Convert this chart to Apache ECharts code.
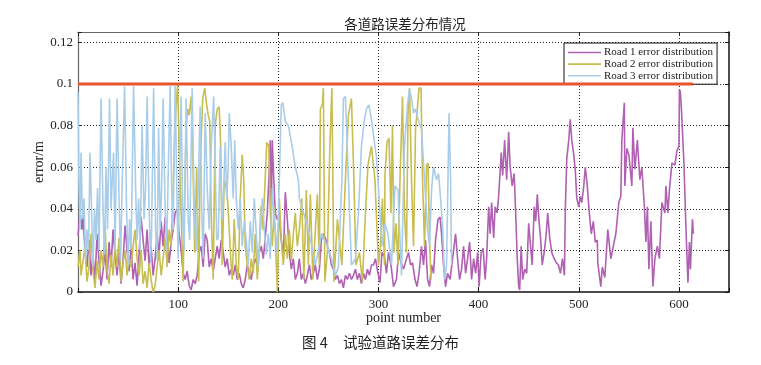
<!DOCTYPE html>
<html><head><meta charset="utf-8">
<script src="https://cdn.jsdelivr.net/npm/echarts@6/dist/echarts.min.js"></script>
<style>html,body{margin:0;padding:0;background:#fff}#c{width:761px;height:365px}</style>
</head><body><div id="c"></div>
<script>
const titleText = "各道路误差分布情况";
const captionLabel = "图 4";
const captionText = "试验道路误差分布";
const xName = "point number";
const yName = "error/m";
const seriesNames = ["Road 1 error distribution", "Road 2 error distribution", "Road 3 error distribution"];
const thresholdValue = 0.1;
const thresholdX = [0, 614];

const road1X = [0,2,4,5,7,9,11,13,15,17,19,21,23,25,27,29,31,33,35,37,39,41,43,45,47,49,51,53,55,57,59,61,63,65,67,69,71,73,75,77,79,81,83,85,87,89,91,93,95,97,99,101,103,105,107,109,111,113,115,117,119,121,123,125,127,129,131,133,135,137,139,141,143,145,147,149,151,153,155,157,159,161,163,165,167,169,171,173,175,177,179,181,183,185,187,189,190.5,192,193,194,195.5,197,199,201,203,205,207,209,211,213,215,217,219,221,223,225,227,229,231,233,235,237,239,241,243,245,247,249,251,253,255,257,259,261,263,265,267,269,271,273,275,277,279,281,283,285,287,289,291,293,295,297,299.5,301.5,303.5,306,308,310,312.5,315,318,320,322.5,325,328,330,332,334,336.5,338.5,340.5,343,345,347,349,351,353,355,357,359.5,361.5,363,365,367,369,371.5,374,377,379,381,383,385,387,389,391,393,395,397,399,400.5,402.5,404.5,406.5,408,410,411.5,413,415,416.5,418.5,420,422.6,424,426,428,430,431.5,433.5,435.5,437,438.6,440,441,442.5,444,446,448,450,451.5,453.5,455.5,457,458.6,460,462,463.5,465.5,467.5,469,471,473,475.5,477.7,479.7,481.7,483.7,485.7,486.5,488,490,491.5,493,495,496.6,498,500,501.5,503,505,506.5,508.5,510.5,512.5,514.5,516.5,518.5,519,522,523.5,526,529,532,537,540,542,543,545.5,546,548,550,553,554,556,558.5,561,563,565.5,567,568.5,570,572,574,576,578.5,580.5,583,586,587,589,590.5,593,596,598,600,600.5,601.5,602.7,605,607,609,610.5,611.5,613.5,614.5];
const road1Y = [0.027,0.038,0.03,0.037,0.02,0.012,0.025,0.008,0.018,0.005,0.028,0.015,0.003,0.01,0.02,0.006,0.024,0.012,0.03,0.018,0.008,0.02,0.004,0.015,0.032,0.02,0.01,0.022,0.006,0.014,0.003,0.018,0.036,0.025,0.015,0.03,0.012,0.022,0.008,0.016,0.028,0.018,0.034,0.022,0.036,0.028,0.014,0.024,0.03,0.038,0.04,0.028,0.02,0.009,0.006,0.01,0.003,0.001,0.006,0.004,0.008,0.019,0.022,0.012,0.028,0.025,0.012,0.016,0.01,0.016,0.022,0.016,0.025,0.019,0.012,0.016,0.008,0.011,0.008,0.013,0.006,0.009,0.004,0.002,0.006,0.013,0.009,0.006,0.013,0.016,0.013,0.019,0.022,0.016,0.026,0.038,0.054,0.073,0.038,0.073,0.054,0.038,0.035,0.035,0.025,0.016,0.048,0.035,0.019,0.011,0.016,0.006,0.009,0.016,0.006,0.009,0.004,0.008,0.013,0.006,0.009,0.013,0.006,0.011,0.025,0.028,0.026,0.022,0.019,0.013,0.011,0.006,0.008,0.004,0.006,0.002,0.008,0.006,0.009,0.006,0.008,0.011,0.006,0.009,0.004,0.009,0.006,0.011,0.008,0.013,0.013,0.016,0.009,0.0045,0.019,0.017,0.009,0.019,0.013,0.0026,0.006,0.019,0.014,0.011,0.016,0.019,0.013,0.014,0.006,0.0026,0.009,0.022,0.013,0.025,0.006,0.0026,0.013,0.009,0.025,0.035,0.036,0.028,0.013,0.0026,0.009,0.006,0.016,0.028,0.016,0.006,0.011,0.022,0.009,0.016,0.024,0.006,0.016,0.009,0.019,0.0026,0.019,0.021,0.006,0.016,0.041,0.028,0.043,0.026,0.041,0.038,0.046,0.067,0.056,0.073,0.054,0.077,0.06,0.051,0.057,0.038,0.016,0.0026,0.001,0.022,0.006,0.011,0.009,0.033,0.024,0.013,0.041,0.034,0.047,0.036,0.025,0.013,0.019,0.028,0.038,0.026,0.019,0.016,0.014,0.013,0.009,0.016,0.008,0.038,0.064,0.073,0.083,0.073,0.066,0.058,0.045,0.041,0.046,0.043,0.051,0.06,0.051,0.038,0.028,0.034,0.024,0.025,0.014,0.0026,0.012,0.007,0.03,0.016,0.028,0.043,0.046,0.073,0.091,0.051,0.069,0.066,0.051,0.079,0.059,0.073,0.054,0.06,0.041,0.024,0.041,0.011,0.034,0.0026,0.016,0.022,0.016,0.043,0.038,0.051,0.038,0.049,0.062,0.061,0.068,0.07,0.0975,0.096,0.086,0.062,0.031,0.0045,0.024,0.011,0.035,0.028];

const road2X = [0,2,3,5,7,9,11,13,15,17,19,21,23,25,27,29,31,33,35,37,39,41,43,45,47,49,51,53,55,57,59,61,63,65,67,69,71,73,75,77,79,81,83,85,87,89,91,93,95,96.5,98,99.5,101,103,105,106,108,109.5,111,113,114.5,116.5,118.5,120.5,122,124.5,126.5,128.5,130,131.5,133,135,137,139,141,142.5,144,146,148,149.5,151,152.5,154,156,158,160,162,164,165.5,167,169,171,173,175,177,179,181,182.5,184.5,186.5,188.5,190.5,192,194,196,198,199,201,203,205,207,209,211,213,215,217,219,221,223.5,225.5,228,230,232,234.5,237,239,241,242,244,245,246.5,249,251.5,253.5,255.5,259,263.5,267,270,273,275.5,277.5,281,284,287,289.5,293,296.5,300,302,304,306,306.5,308.5,310.5,312.5,314,315.5,317.5,319.5,321.5,324,326,328,329.5,331,333,335,337,338.5,340.5,342.5,344,346,348,349.5,351,352.5];
const road2Y = [0.012,0.02,0.008,0.015,0.022,0.005,0.012,0.028,0.01,0.002,0.015,0.006,0.02,0.012,0.032,0.01,0.004,0.018,0.008,0.022,0.012,0.026,0.005,0.014,0.02,0.008,0.016,0.012,0.022,0.03,0.016,0.008,0.02,0.004,0.01,0.002,0.014,0.006,0.0,0.003,0.012,0.02,0.008,0.016,0.026,0.012,0.03,0.022,0.05,0.075,0.09,0.1,0.07,0.038,0.005,0.035,0.08,0.088,0.085,0.094,0.07,0.019,0.06,0.005,0.06,0.093,0.098,0.09,0.085,0.082,0.038,0.006,0.08,0.088,0.089,0.07,0.013,0.054,0.05,0.043,0.03,0.016,0.006,0.035,0.013,0.006,0.045,0.066,0.054,0.022,0.013,0.006,0.016,0.009,0.028,0.006,0.019,0.041,0.03,0.05,0.072,0.07,0.038,0.022,0.041,0.013,0.0,0.045,0.025,0.013,0.028,0.016,0.03,0.015,0.028,0.038,0.022,0.03,0.045,0.006,0.049,0.013,0.047,0.006,0.03,0.047,0.013,0.088,0.09,0.098,0.005,0.019,0.07,0.098,0.005,0.035,0.013,0.054,0.085,0.093,0.054,0.013,0.019,0.005,0.038,0.061,0.07,0.054,0.013,0.022,0.045,0.013,0.056,0.072,0.074,0.038,0.08,0.019,0.033,0.013,0.054,0.094,0.038,0.019,0.086,0.098,0.054,0.022,0.078,0.086,0.098,0.098,0.054,0.022,0.061,0.062,0.025,0.006];

const road3X = [0,1,2,3,4.5,6,7.5,9,10.5,12,13.5,15,16.5,18,19.5,21,23,25,26.5,28,29.5,31.5,33,35.5,37,39,41,42.5,44,46.5,48.5,50,51.5,53,55.5,57.5,59,60.5,62,64,66,67.5,69,71,72.5,73.5,75.5,77.5,79,80.5,82,83.5,85,87,88.5,90,92,93.5,95,97,99,100,101.5,103,104.5,106,108,110,111.5,114,116,118,120,122,123.5,125,127,129,131,133,135.5,137,138.5,140,142,144,145.5,147,148.5,150,151,153,155,156.5,158,160,162,164,166,168,170,172,174,176,178,180,182,184,186,188,190,192,194,196,198,199,201,203,204.5,207,210,213.5,217,220,221,223.5,227,230,233.5,237,240,243,246,249,253,257,260,263.5,265,267,270,273,277,280,283,286,288,290.5,293,296.5,298,300.5,303.5,306.5,309.5,313,316.5,319.5,323,326,329,331,333,335,337,339.5,343,346,349,351,353,355,358,360,362,364,366,368,370.5,372,373];
const road3Y = [0.096,0.05,0.03,0.067,0.035,0.045,0.015,0.03,0.02,0.067,0.04,0.012,0.04,0.025,0.05,0.02,0.093,0.04,0.018,0.06,0.03,0.093,0.04,0.067,0.02,0.093,0.045,0.015,0.05,0.099,0.04,0.012,0.035,0.02,0.099,0.05,0.025,0.045,0.02,0.08,0.035,0.05,0.094,0.04,0.015,0.03,0.098,0.03,0.015,0.079,0.03,0.05,0.093,0.04,0.02,0.055,0.099,0.05,0.03,0.099,0.04,0.016,0.06,0.094,0.035,0.02,0.093,0.035,0.025,0.098,0.04,0.02,0.05,0.089,0.04,0.016,0.086,0.05,0.03,0.07,0.094,0.06,0.025,0.026,0.07,0.035,0.05,0.072,0.045,0.06,0.086,0.07,0.045,0.073,0.045,0.03,0.045,0.022,0.034,0.025,0.013,0.034,0.019,0.045,0.028,0.012,0.03,0.045,0.03,0.018,0.028,0.016,0.05,0.034,0.025,0.019,0.054,0.09,0.091,0.082,0.08,0.071,0.06,0.054,0.045,0.041,0.035,0.03,0.022,0.013,0.02,0.028,0.025,0.022,0.016,0.008,0.012,0.054,0.093,0.094,0.054,0.013,0.016,0.038,0.07,0.083,0.088,0.09,0.083,0.07,0.065,0.046,0.022,0.033,0.028,0.013,0.051,0.049,0.008,0.07,0.09,0.0975,0.093,0.086,0.088,0.083,0.078,0.054,0.03,0.022,0.049,0.06,0.054,0.057,0.045,0.032,0.006,0.013,0.086,0.054,0.013];

const xTicks = [100,200,300,400,500,600];
const yTicks = [0,0.02,0.04,0.06,0.08,0.1,0.12];

const zip = (xs, ys) => xs.map((x, i) => [x, ys[i]]);
const serif = "'Liberation Serif','DejaVu Serif',serif";
const cjk = "'Noto Sans CJK SC','Noto Sans CJK JP',sans-serif";

const chart = echarts.init(document.getElementById('c'));
const colors = ['#b061b2', '#c8bd4f', '#a9cde8'];
const xLab = v => xTicks.indexOf(v) >= 0 ? String(v) : '';
const yLab = v => { const r = Math.round(v * 100) / 100; return yTicks.some(t => Math.abs(t - v) < 1e-9) ? String(r) : ''; };
const lineIcon = 'path://M0 0 H33 V1.6 H0 Z';

chart.setOption({
  animation: false,
  backgroundColor: '#fff',
  title: { text: titleText, left: 400, top: 12, textAlign: 'center',
    textStyle: { fontFamily: cjk, fontSize: 13.5, fontWeight: 'normal', color: '#222' } },
  graphic: [
    { type: 'text', left: 302, top: 335, style: { text: captionLabel, font: "14.5px " + cjk, fill: '#222' } },
    { type: 'text', left: 343, top: 335, style: { text: captionText, font: "14.5px " + cjk, fill: '#222' } }
  ],
  legend: {
    orient: 'vertical', left: 564, top: 43, itemWidth: 33, itemHeight: 10, itemGap: 0.6,
    padding: [4, 4, 3, 4], backgroundColor: '#fff', borderColor: '#111', borderWidth: 1,
    borderRadius: 0, icon: lineIcon,
    textStyle: { fontFamily: serif, fontSize: 11, color: '#222', padding: [0, 0, 0, -2] },
    data: seriesNames
  },
  grid: { left: 78, right: 32, top: 32, bottom: 73 },
  xAxis: [{
    type: 'value', min: 0, max: 650, interval: 100, position: 'bottom',
    name: xName, nameLocation: 'middle', nameGap: 19, nameMoveOverlap: false,
    nameTextStyle: { fontFamily: serif, fontSize: 14, color: '#222' },
    axisLine: { show: true, onZero: false, lineStyle: { color: '#111', width: 1.5 } },
    axisTick: { inside: true, length: 4, lineStyle: { color: '#111' } },
    axisLabel: { formatter: xLab, fontFamily: serif, fontSize: 13, color: '#222', margin: 6 },
    splitLine: { show: true, showMinLine: false, showMaxLine: false, lineStyle: { type: [1, 2], color: '#222', width: 1 } }
  }, {
    type: 'value', min: 0, max: 650, interval: 100, position: 'top',
    axisLine: { show: true, onZero: false, lineStyle: { color: '#666', width: 1.2 } },
    axisTick: { inside: true, length: 4, lineStyle: { color: '#222' } },
    axisLabel: { show: false }, splitLine: { show: false }
  }],
  yAxis: [{
    type: 'value', min: 0, max: 0.125, interval: 0.02, position: 'left',
    name: yName, nameLocation: 'middle', nameGap: 32, nameRotate: 90, nameMoveOverlap: false,
    nameTextStyle: { fontFamily: serif, fontSize: 14, color: '#222' },
    axisLine: { show: true, onZero: false, lineStyle: { color: '#666', width: 1.2 } },
    axisTick: { inside: true, length: 4, lineStyle: { color: '#222' } },
    axisLabel: { formatter: yLab, fontFamily: serif, fontSize: 13, color: '#222', margin: 5 },
    splitLine: { show: true, showMinLine: false, showMaxLine: false, lineStyle: { type: [1, 2], color: '#222', width: 1 } }
  }, {
    type: 'value', min: 0, max: 0.125, interval: 0.02, position: 'right',
    axisLine: { show: true, onZero: false, lineStyle: { color: '#111', width: 1.5 } },
    axisTick: { inside: true, length: 4, lineStyle: { color: '#111' } },
    axisLabel: { show: false }, splitLine: { show: false }
  }],
  series: [
    { name: seriesNames[0], type: 'line', symbol: 'none', data: zip(road1X, road1Y), color: colors[0], lineStyle: { width: 1.6, color: colors[0] }, z: 2 },
    { name: seriesNames[1], type: 'line', symbol: 'none', data: zip(road2X, road2Y), color: colors[1], lineStyle: { width: 1.6, color: colors[1] }, z: 3 },
    { name: seriesNames[2], type: 'line', symbol: 'none', data: zip(road3X, road3Y), color: colors[2], lineStyle: { width: 1.6, color: colors[2] }, z: 4 },
    { name: 'threshold', type: 'line', symbol: 'none', data: thresholdX.map(x => [x, thresholdValue]), lineStyle: { width: 3, color: '#e8552d' }, z: 5 }
  ]
});
</script></body></html>
